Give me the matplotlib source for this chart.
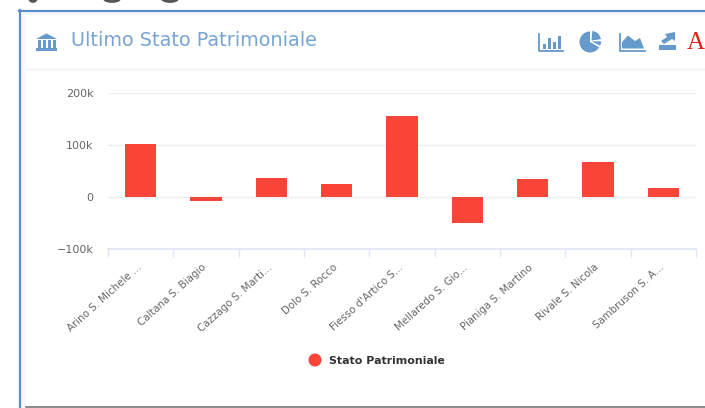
import numpy as np
import matplotlib
matplotlib.use("Agg")
import matplotlib.pyplot as plt
from matplotlib.patches import Rectangle, Polygon, Wedge, Ellipse
from matplotlib.lines import Line2D

categories = ["Arino S. Michele ...", "Caltana S. Biagio", "Cazzago S. Marti...", "Dolo S. Rocco",
              "Fiesso d'Artico S...", "Mellaredo S. Gio...", "Pianiga S. Martino", "Rivale S. Nicola",
              "Sambruson S. A..."]
values = [102000, -7000, 37000, 25500, 156000, -50000, 35000, 67000, 18000]
y_ticks = [-100000, 0, 100000, 200000]
y_labels = ["\u2212100k", "0", "100k", "200k"]
title = "Ultimo Stato Patrimoniale"
series = "Stato Patrimoniale"

W, H = 705, 408
fig = plt.figure(figsize=(W / 100, H / 100), dpi=100, facecolor="white")
plt.rcParams["font.family"] = ["DejaVu Sans"]

bg = fig.add_axes([0, 0, 1, 1])
bg.set_xlim(0, W)
bg.set_ylim(H, 0)
bg.axis("off")

BLUE = "#6699cc"
# page frame and panel
bg.add_patch(Rectangle((19, 11), 686, 396, fc="#f7f8fb", ec="none"))
bg.add_patch(Rectangle((26, 15), 679, 392, fc="white", ec="none"))
bg.add_line(Line2D([19, 705], [10.5, 10.5], color="#5b8fcb", lw=1.6))
bg.add_line(Line2D([19.5, 19.5], [10, 408], color="#5b8fcb", lw=1.6))
bg.add_line(Line2D([26, 705], [407.3, 407.3], color="#777777", lw=1.2))
bg.add_line(Line2D([26, 705], [68.5, 68.5], color="#eef0f6", lw=1))
# clipped heading descenders at the top edge
for x0, wd in [(33, 7), (112, 16), (170, 16)]:
    bg.add_patch(Ellipse((x0, -2), wd, 7, fc="none", ec="#555555", lw=2))

# title
bg.text(71, 40, title, color="#78a5d3", fontsize=13.9, va="center", ha="left")
# bank icon
bg.add_patch(Polygon([[36, 39], [46.5, 33.5], [57, 39]], fc=BLUE))
for x0 in [38, 43, 48, 53]:
    bg.add_patch(Rectangle((x0, 40), 2.6, 7.5, fc=BLUE))
bg.add_patch(Rectangle((36, 48), 21, 2.5, fc=BLUE))
# toolbox icons
bg.add_line(Line2D([539, 539, 563], [34, 50.5, 50.5], color=BLUE, lw=1.3))
for x0, t in [(543, 44), (548, 38), (553, 42), (558, 36)]:
    bg.add_patch(Rectangle((x0, t), 3, 48.5 - t, fc=BLUE))
bg.add_patch(Wedge((590, 42), 10.5, 30, 270, fc=BLUE))
bg.add_patch(Wedge((591.5, 40.5), 9.5, 275, 352, fc=BLUE))
bg.add_patch(Wedge((591.5, 41.5), 9.5, 358, 25, fc=BLUE))
bg.add_line(Line2D([620, 620, 645], [34, 50.5, 50.5], color=BLUE, lw=1.3))
bg.add_patch(Polygon([[622, 48.5], [622, 42], [628, 35.5], [635, 41], [640, 38], [644, 48.5]], fc=BLUE))
bg.add_patch(Rectangle((659, 44.5), 17, 5, fc=BLUE))
bg.add_patch(Polygon([[661, 41], [667, 37], [665, 34], [675, 32], [675, 41], [672, 39], [664, 44]], fc=BLUE))
bg.text(686.5, 49, "A", color="#dd2211", fontsize=18, fontfamily="Liberation Serif", va="baseline", ha="left")

# chart axes: plot area in pixels
left, right, top, bottom = 108, 696, 93, 249
ax = fig.add_axes([left / W, 1 - bottom / H, (right - left) / W, (bottom - top) / H])
ax.patch.set_alpha(0)
ax.set_xlim(-0.5, len(categories) - 0.5)
ax.set_ylim(-100000, 200000)
x = np.arange(len(categories))
ax.bar(x, values, width=0.475, color="#f94438", zorder=3)

ax.set_yticks(y_ticks, y_labels, color="#666666", fontsize=8)
ax.set_xticks(list(x - 0.5) + [len(categories) - 0.5])
ax.set_xticklabels([])
ax.tick_params(axis="x", length=5.8, width=1, color="#dfe5f2", direction="out", pad=0)
ax.tick_params(axis="y", length=0, pad=10.4)
ax.grid(axis="y", color="#eceef3", lw=1, zorder=0)
ax.grid(axis="x", visible=False)
ax.set_axisbelow(True)
for s in ["top", "left", "right"]:
    ax.spines[s].set_visible(False)
ax.spines["bottom"].set_color("#dfe5f2")
ax.spines["bottom"].set_linewidth(1.2)
for i, lab in enumerate(categories):
    ax.annotate(lab, xy=(i, 0), xycoords=("data", "axes fraction"),
                xytext=(-3, -9.5), textcoords="offset points", rotation=42, ha="right", va="top",
                rotation_mode="anchor", fontsize=7.4, color="#666666")

# legend
bg.add_patch(Ellipse((315, 360), 13, 13, fc="#f94438", ec="none"))
bg.text(329, 360.5, series, color="#333333", fontsize=7.9, fontweight="bold", va="center", ha="left")

fig.savefig("out.png", dpi=100)
